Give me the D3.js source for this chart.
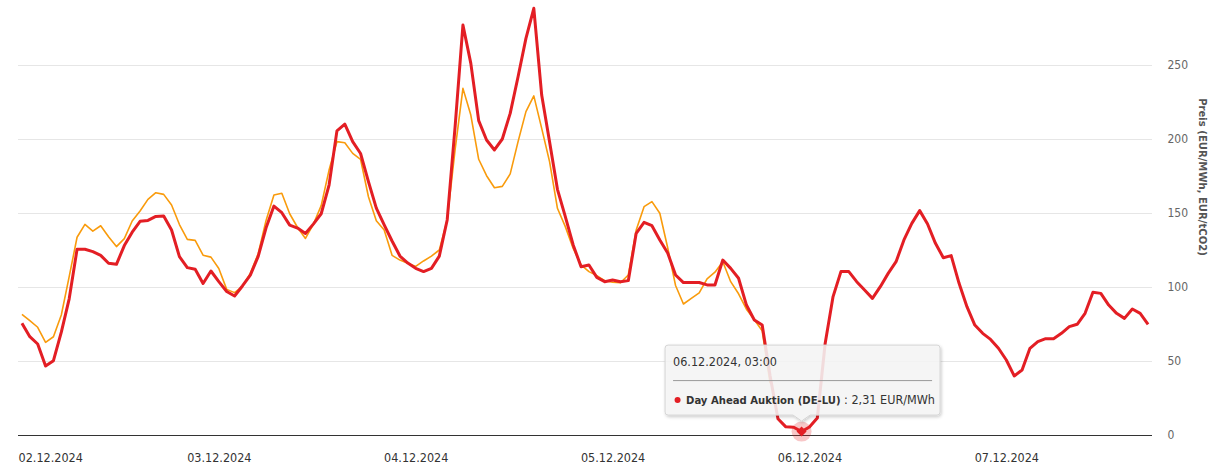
<!DOCTYPE html>
<html><head><meta charset="utf-8">
<script src="https://cdn.jsdelivr.net/npm/d3@7"></script>
<style>
html,body{margin:0;padding:0;background:#fff;}
svg{display:block;font-family:"DejaVu Sans Condensed","DejaVu Sans",sans-serif;}
</style></head><body>
<svg id="chart" width="1228" height="470"></svg>
<script>
// ---- data (hourly, starting 02.12.2024 00:00) ----
const startUtc = Date.UTC(2024, 11, 2, 0, 0);
const dayAhead = [
  75.5, 66.4, 61.5, 46.6, 50.2, 69.5, 92.0, 125.5, 125.5, 123.9, 121.4, 116.0,
  115.3, 128.0, 137.0, 144.4, 145.0, 147.7, 148.0, 138.5, 120.5, 113.1, 112.0, 102.4,
  110.8, 103.6, 97.0, 93.9, 100.7, 108.0, 120.7, 140.0, 154.7, 150.2, 141.8, 139.8,
  136.2, 142.5, 149.5, 168.9, 205.5, 210.0, 198.2, 190.2, 171.2, 153.3, 142.0, 131.1,
  120.9, 116.2, 112.6, 110.4, 112.6, 120.9, 145.3, 208.0, 277.0, 251.1, 212.4, 199.3,
  192.6, 200.0, 217.3, 242.1, 268.0, 288.3, 229.7, 198.2, 166.0, 147.5, 128.4, 113.7,
  114.9, 106.5, 103.6, 104.7, 103.6, 104.3, 136.3, 143.7, 141.4, 131.8, 123.0, 108.1,
  103.0, 103.0, 103.0, 101.4, 101.4, 118.2, 112.6, 105.9, 87.8, 77.7, 74.3, 40.0,
  11.0, 5.5, 5.2, 2.31, 5.4, 11.5, 62.0, 93.5, 110.4, 110.4, 103.6, 98.0,
  92.3, 100.2, 109.2, 117.1, 131.8, 143.0, 151.6, 142.6, 129.5, 119.8, 121.2, 102.5,
  86.7, 74.3, 68.7, 64.6, 58.6, 50.7, 39.9, 43.9, 58.6, 63.1, 65.1, 65.1,
  68.7, 73.2, 74.8, 82.2, 96.4, 95.7, 87.8, 82.2, 78.8, 85.1, 82.2, 74.8
];
const intraday = [
  81.5, 77.3, 72.8, 62.6, 66.4, 81.1, 107.0, 133.6, 142.3, 137.8, 141.4, 134.0,
  127.3, 132.7, 144.6, 151.4, 159.2, 163.7, 162.6, 155.4, 142.2, 132.2, 131.5, 121.5,
  120.2, 112.5, 98.4, 96.2, 100.5, 109.2, 122.5, 145.0, 162.2, 163.3, 149.5, 140.2,
  132.8, 142.3, 155.0, 179.0, 198.2, 197.5, 190.3, 186.3, 161.0, 144.8, 138.5, 121.4,
  118.2, 116.0, 113.9, 117.6, 120.9, 125.0, 145.3, 192.6, 234.2, 216.2, 186.3, 175.2,
  167.1, 168.0, 176.4, 198.2, 218.5, 229.1, 207.2, 184.7, 153.2, 140.8, 126.1, 114.9,
  110.4, 107.7, 104.3, 103.2, 102.9, 108.1, 138.5, 154.3, 157.7, 149.8, 126.5, 101.0,
  88.5, 92.3, 96.0, 105.5, 110.0, 117.1, 103.6, 95.4, 85.0, 77.9, 70.4, 35.0
];
const yTickValues = [0, 50, 100, 150, 200, 250];
const xTickTimes = ["2024-12-02T00:00Z", "2024-12-03T01:00Z", "2024-12-04T02:00Z",
                    "2024-12-05T03:00Z", "2024-12-06T04:00Z", "2024-12-07T05:00Z"];
const seriesName = "Day Ahead Auktion (DE-LU)";
const unitLabel = "EUR/MWh";
const axisTitle = "Preis (EUR/MWh, EUR/tCO2)";
const tooltipIndex = 99;

// ---- layout ----
const HOUR = 3600e3;
const plotL = 18, plotR = 1152, plotB = 435;
const red = "#e31e24", orange = "#f99b0c";

const svg = d3.select("#chart");
const timeOf = i => new Date(startUtc + i * HOUR);
const x = d3.scaleUtc()
  .domain([new Date(startUtc - 0.5 * HOUR), new Date(startUtc + (dayAhead.length - 0.5) * HOUR)])
  .range([plotL, plotR]);
const y = d3.scaleLinear().domain([0, 250]).range([plotB, 65]);

const de = d3.formatLocale({decimal: ",", thousands: ".", grouping: [3], currency: ["", " €"]});
const fmtVal = de.format(".2f");
const fmtDay = d3.utcFormat("%d.%m.%Y");
const fmtTip = d3.utcFormat("%d.%m.%Y, %H:%M");

// defs
const defs = svg.append("defs");
const f = defs.append("filter").attr("id", "shadow").attr("x", "-10%").attr("y", "-20%").attr("width", "130%").attr("height", "150%");
f.append("feDropShadow").attr("dx", 1).attr("dy", 1.5).attr("stdDeviation", 1.6)
  .attr("flood-color", "#000").attr("flood-opacity", 0.22);

// gridlines
svg.append("g").selectAll("line").data(yTickValues.filter(v => v > 0)).join("line")
  .attr("x1", plotL).attr("x2", plotR)
  .attr("y1", d => Math.round(y(d)) + 0.5).attr("y2", d => Math.round(y(d)) + 0.5)
  .attr("stroke", "#e6e6e6").attr("stroke-width", 1);

// x axis line
svg.append("line").attr("x1", plotL).attr("x2", plotR)
  .attr("y1", Math.round(y(0)) + 0.5).attr("y2", Math.round(y(0)) + 0.5)
  .attr("stroke", "#333").attr("stroke-width", 1);

// y axis (right)
const yAxis = svg.append("g").attr("transform", `translate(${plotR},0)`)
  .call(d3.axisRight(y).tickValues(yTickValues).tickSize(0).tickPadding(15.5));
yAxis.select(".domain").remove();
yAxis.selectAll("text").attr("font-size", 12).attr("fill", "#666")
  .attr("font-family", '"DejaVu Sans Condensed","DejaVu Sans",sans-serif');

// y axis title
svg.append("text")
  .attr("transform", `translate(1199,177) rotate(90)`)
  .attr("text-anchor", "middle")
  .attr("font-size", 11.2).attr("font-weight", "bold").attr("fill", "#555")
  .text(axisTitle);

// x axis labels
const xAxis = svg.append("g").attr("transform", `translate(0,${plotB})`)
  .call(d3.axisBottom(x).tickValues(xTickTimes.map(s => new Date(s)))
    .tickFormat(fmtDay).tickSize(0).tickPadding(18));
xAxis.select(".domain").remove();
xAxis.selectAll("text").attr("font-size", 12.5).attr("fill", "#333")
  .attr("font-family", '"DejaVu Sans Condensed","DejaVu Sans",sans-serif');
// justify first label to the plot edge (as the original does)
xAxis.selectAll(".tick").each(function (d) {
  const t = d3.select(this).select("text");
  const w = t.node().getComputedTextLength();
  const cx = x(d);
  if (cx - w / 2 < plotL) t.attr("text-anchor", "start").attr("x", plotL - cx);
});

// lines
const line = d3.line().x((d, i) => x(timeOf(i))).y(d => y(d));
svg.append("path").datum(intraday).attr("d", line)
  .attr("fill", "none").attr("stroke", orange).attr("stroke-width", 1.6).attr("stroke-linejoin", "round");
svg.append("path").datum(dayAhead).attr("d", line)
  .attr("fill", "none").attr("stroke", red).attr("stroke-width", 3).attr("stroke-linejoin", "round");

// hover marker
const px = x(timeOf(tooltipIndex)), py = y(dayAhead[tooltipIndex]);
svg.append("circle").attr("cx", px).attr("cy", py).attr("r", 10).attr("fill", red).attr("opacity", 0.25);
const r = 5;
svg.append("path").attr("d", `M${px},${py - r}L${px + r},${py}L${px},${py + r}L${px - r},${py}Z`).attr("fill", red);

// tooltip
const tw = 275, th = 70;
const bx = px - 136.5, by = py - 16.5 - th, bb = by + th, rr = 3;
const notch = 8.5, tipY = py - 10.5;
const tip = svg.append("g");
tip.append("path")
  .attr("d", `M${bx + rr},${by} H${bx + tw - rr} Q${bx + tw},${by} ${bx + tw},${by + rr} V${bb - rr} Q${bx + tw},${bb} ${bx + tw - rr},${bb}
    H${px + notch} L${px},${tipY} L${px - notch},${bb} H${bx + rr} Q${bx},${bb} ${bx},${bb - rr} V${by + rr} Q${bx},${by} ${bx + rr},${by}Z`)
  .attr("fill", "rgba(247,247,247,0.86)").attr("stroke", "#d4d4d4").attr("stroke-width", 1)
  .attr("filter", "url(#shadow)");
tip.append("text").attr("x", bx + 8).attr("y", by + 21).attr("font-size", 12.5).attr("fill", "#333")
  .text(fmtTip(timeOf(tooltipIndex)));
tip.append("line").attr("x1", bx + 8).attr("x2", bx + 267).attr("y1", by + 35.5).attr("y2", by + 35.5)
  .attr("stroke", "#999").attr("stroke-width", 1);
tip.append("circle").attr("cx", bx + 12.5).attr("cy", by + 55).attr("r", 3).attr("fill", red);
const tt = tip.append("text").attr("x", bx + 21).attr("y", by + 59).attr("fill", "#333");
tt.append("tspan").attr("font-weight", "bold").attr("font-size", 11.2).text(seriesName);
tt.append("tspan").attr("font-size", 12.5).text(` : ${fmtVal(dayAhead[tooltipIndex])} ${unitLabel}`);
</script>
</body></html>
